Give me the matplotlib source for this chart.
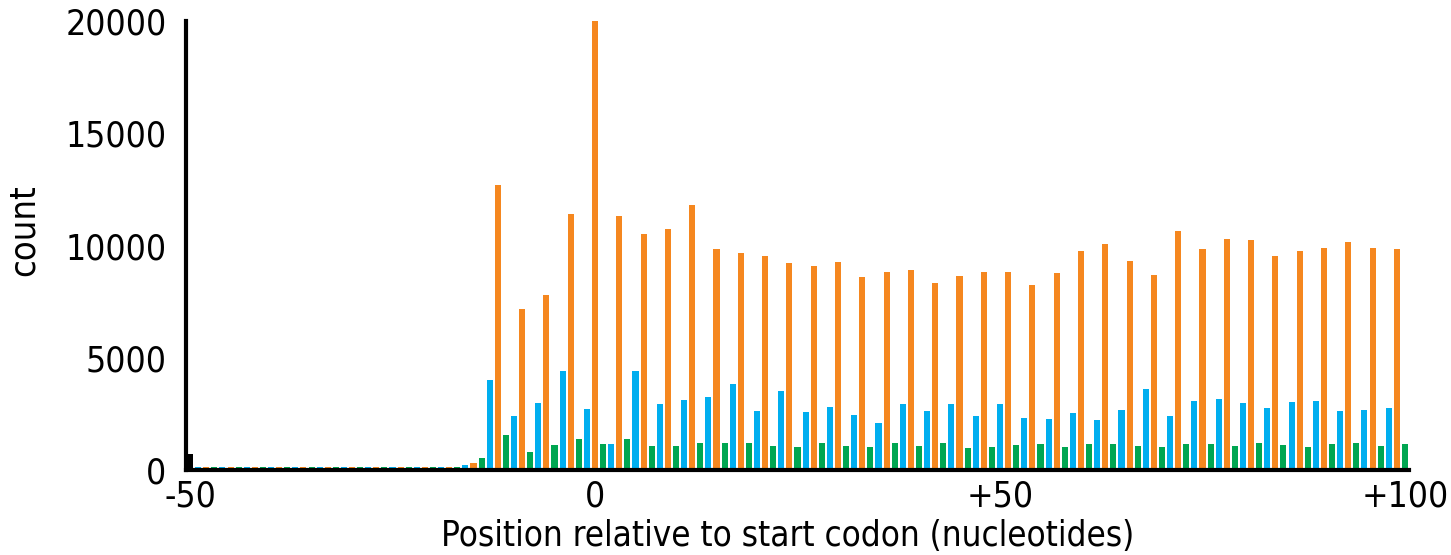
#!/usr/bin/python3

import numpy as np
import matplotlib
matplotlib.use('Agg')
import matplotlib.pyplot as plt

# position relative to start codon, -50 .. +100
positions = list(range(-50, 101))

# read counts (one per position)
upstream = [700] + [130] * 33          # -50 .. -17
counts = upstream + [
    220, 310, 530,                      # -16 .. -14
    4000, 12690, 1560, 2400, 7170, 800, 2980, 7790, 1110, 4410, 11400, 1380,
    2720, 20000, 1160,                  # -1, 0, 1
    1160, 11310, 1380, 4410, 10510, 1070, 2940, 10730, 1070, 3120, 11800, 1200,
    3250, 9840, 1200, 3830, 9660, 1200, 2630, 9530, 1070, 3520, 9220, 1020,
    2580, 9080, 1200, 2800, 9260, 1070, 2450, 8590, 1020, 2090, 8820, 1200,
    2940, 8900, 1070, 2630, 8330, 1200, 2940, 8640, 980, 2400, 8820, 1020,
    2940, 8820, 1110, 2310, 8240, 1160, 2270, 8770, 1020, 2540, 9750, 1160,
    2230, 10060, 1160, 2670, 9310, 1070, 3610, 8680, 1020, 2400, 10640, 1160,
    3070, 9840, 1160, 3160, 10290, 1070, 2980, 10240, 1200, 2760, 9530, 1110,
    3030, 9750, 1020, 3070, 9880, 1160, 2630, 10150, 1200, 2670, 9880, 1070,
    2760, 9840, 1160,                   # 98 .. 100
]

xticks = [-50, 0, 50, 100]
xticklabels = ['-50', '0', '+50', '+100']
yticks = [0, 5000, 10000, 15000, 20000]

# frame colours: pos%3==0 orange, 1 green, 2 blue
frame_colors = {0: '#f5871f', 1: '#00a651', 2: '#00aeef'}
colors = [frame_colors[p % 3] for p in positions]
colors[0] = 'black'

font = dict(family='DejaVu Sans', stretch='condensed')

f = plt.figure(1, figsize=(14.51, 5.55), dpi=100)
f.clf()
ax = f.add_axes([186/1451, 85/555, 1223/1451, 449/555])
ax.bar(positions, counts, width=0.75, color=colors, linewidth=0)

ax.set_xlim(-50.5, 100.5)
ax.set_ylim(0, 20000)
ax.set_xticks(xticks)
ax.set_xticklabels(xticklabels, fontsize=25.5, **font)
ax.set_yticks(yticks)
ax.set_yticklabels([str(v) for v in yticks], fontsize=25.5, **font)
ax.tick_params(axis='both', length=0)
ax.tick_params(axis='x', pad=7)
ax.tick_params(axis='y', pad=14)

for s in ['top', 'right']:
    ax.spines[s].set_visible(False)
for s in ['left', 'bottom']:
    ax.spines[s].set_linewidth(3)
    ax.spines[s].set_color('black')

ax.set_xlabel('Position relative to start codon (nucleotides)', fontsize=25, **font)
ax.xaxis.set_label_coords(0.492, -0.11)
ax.set_ylabel('count', fontsize=26, **font)
ax.yaxis.set_label_coords(-0.119, 0.535)

f.savefig('out.png', dpi=100)
